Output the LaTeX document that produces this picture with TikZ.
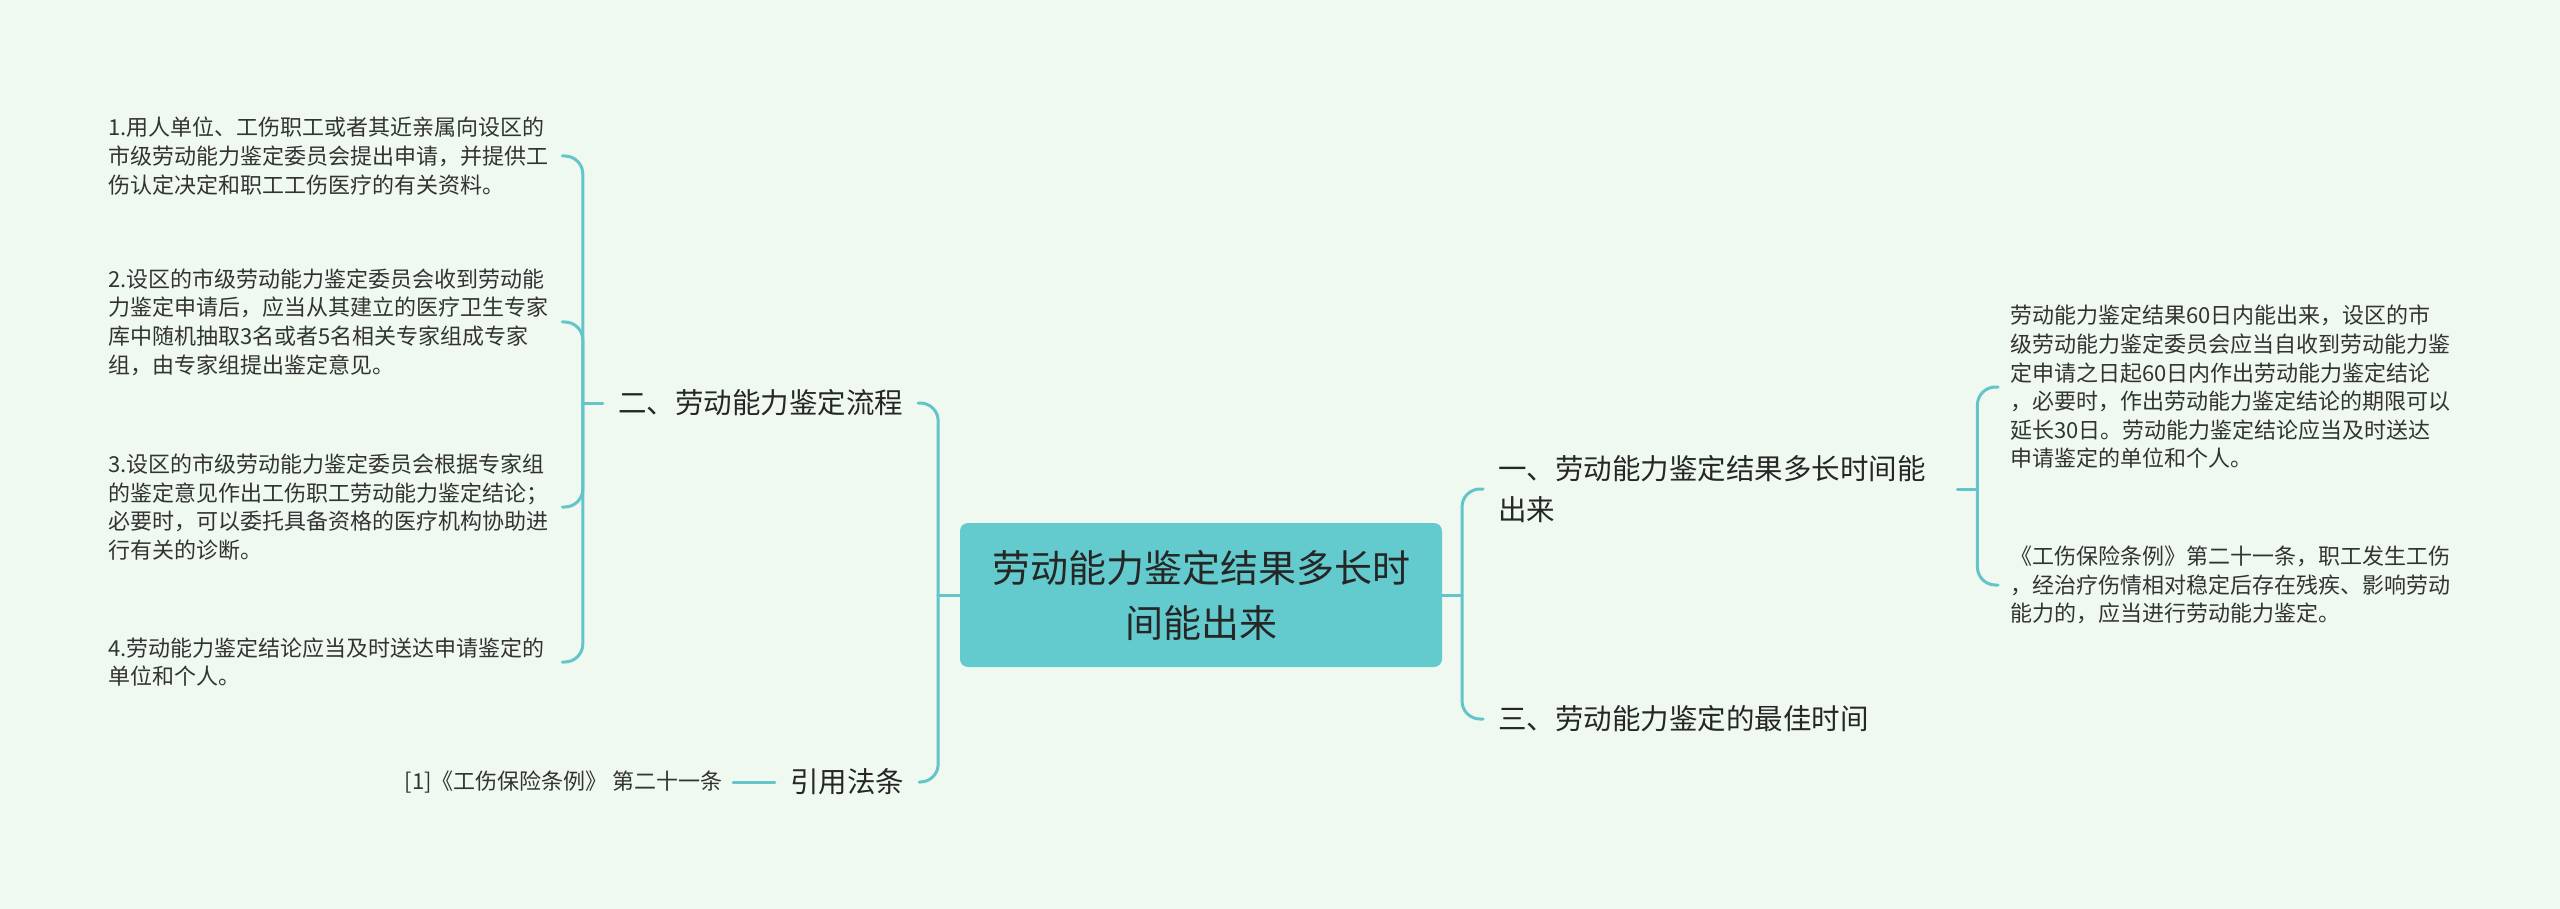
\documentclass[tikz,border=0pt]{standalone}
\usepackage{fontspec}
\setmainfont{Noto Sans CJK SC}
\definecolor{mintgrund}{RGB}{240,249,240}
\definecolor{astlinie}{RGB}{99,196,202}
\definecolor{kernfarbe}{RGB}{99,202,205}
\definecolor{textgrau}{RGB}{51,51,51}
\tikzset{
  ast/.style={draw=astlinie, line width=3pt, line cap=round},
  kurve/.style={ast, rounded corners=18pt},
  kern/.style={fill=kernfarbe, rounded corners=8pt, minimum width=482pt, minimum height=144pt,
    align=center, text=black!85, font=\fontsize{38}{55}\selectfont},
  zweig/.style={inner xsep=15pt, inner ysep=4pt, text=black!85, font=\fontsize{28.5}{41}\selectfont},
  blatt/.style={inner xsep=10pt, inner ysep=3pt, text=textgrau, align=left, text width=444pt,
    font=\fontsize{22}{28.6}\selectfont},
  quelle/.style={inner xsep=10pt, inner ysep=3pt, text=textgrau, font=\fontsize{22}{28.6}\selectfont}
}
\begin{document}
\begin{tikzpicture}[x=1pt, y=-1pt]
  % Hintergrund
  \fill[mintgrund] (0,0) rectangle (2560,909);
  \useasboundingbox (0,0) rectangle (2560,909);
  % Kern und Hauptäste
  \node[kern] (kern) at (1201,595) {劳动能力鉴定结果多长时\\间能出来};
  \node[zweig] (ablauf) at (760.5,403) {二、劳动能力鉴定流程};
  \node[zweig] (recht) at (847,782) {引用法条};
  \node[zweig, anchor=west, text width=444pt, align=left] (dauer) at (1483,489) {一、劳动能力鉴定结果多长时间能\\出来};
  \node[zweig, anchor=west] (zeit) at (1483,719) {三、劳动能力鉴定的最佳时间};
  % Blätter links
  \node[blatt, anchor=west] (s1) at (98,156) {1.用人单位、工伤职工或者其近亲属向设区的\\市级劳动能力鉴定委员会提出申请，并提供工\\伤认定决定和职工工伤医疗的有关资料。};
  \node[blatt, anchor=west] (s2) at (98,322) {2.设区的市级劳动能力鉴定委员会收到劳动能\\力鉴定申请后，应当从其建立的医疗卫生专家\\库中随机抽取3名或者5名相关专家组成专家\\组，由专家组提出鉴定意见。};
  \node[blatt, anchor=west] (s3) at (98,507) {3.设区的市级劳动能力鉴定委员会根据专家组\\的鉴定意见作出工伤职工劳动能力鉴定结论；\\必要时，可以委托具备资格的医疗机构协助进\\行有关的诊断。};
  \node[blatt, anchor=west] (s4) at (98,662) {4.劳动能力鉴定结论应当及时送达申请鉴定的\\单位和个人。};
  \node[quelle, anchor=east] (zitat) at (733,782) {[1]《工伤保险条例》 第二十一条};
  % Blätter rechts
  \node[blatt, anchor=west, inner xsep=12pt] (r1) at (1998,387) {劳动能力鉴定结果60日内能出来，设区的市\\级劳动能力鉴定委员会应当自收到劳动能力鉴\\定申请之日起60日内作出劳动能力鉴定结论\\，必要时，作出劳动能力鉴定结论的期限可以\\延长30日。劳动能力鉴定结论应当及时送达\\申请鉴定的单位和个人。};
  \node[blatt, anchor=west, inner xsep=12pt] (r2) at (1998,585) {《工伤保险条例》第二十一条，职工发生工伤\\，经治疗伤情相对稳定后存在残疾、影响劳动\\能力的，应当进行劳动能力鉴定。};
  % Verbindungen
  \draw[ast] (kern.west) -- ++(-22,0);
  \draw[kurve] (ablauf.east) -- ++(20,0) |- (recht.east);
  \draw[ast] (kern.east) -- ++(20,0);
  \draw[kurve] (dauer.west) -- ++(-21,0) |- (zeit.west);
  \draw[ast] (ablauf.west) -- ++(-20,0) coordinate (ablaufknoten);
  \foreach \s in {s1,s2,s3,s4}
    \draw[kurve] (ablaufknoten) |- (\s.east);
  \draw[ast] (zitat.east) -- (recht.west);
  \draw[ast] (dauer.east) -- ++(20,0) coordinate (dauerknoten);
  \foreach \r in {r1,r2}
    \draw[kurve] (dauerknoten) |- (\r.west);
\end{tikzpicture}
\end{document}
